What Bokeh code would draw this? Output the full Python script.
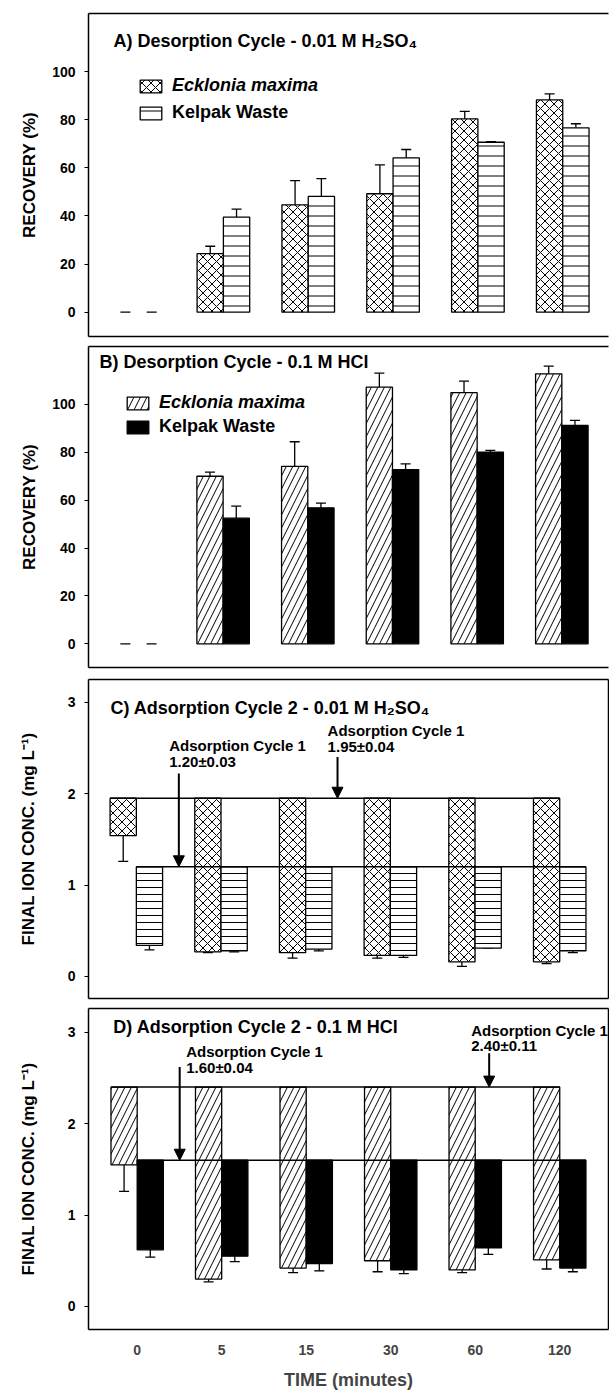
from bokeh.plotting import figure
from bokeh.models import (Range1d, FixedTicker, LinearAxis, Whisker, TeeHead, Arrow,
                          NormalHead, Label, Legend, LegendItem, ColumnDataSource,
                          CDSView, BooleanFilter, Grid)
from bokeh.layouts import column
from bokeh.embed import file_html
from bokeh.resources import INLINE

FONT = "Liberation Sans"

# ---------------- data ----------------
time_labels = ["0", "5", "15", "30", "60", "120"]
series_names = ["Ecklonia maxima", "Kelpak Waste"]

# A) Desorption cycle - 0.01 M H2SO4 (recovery %)
a_eck = [0, 24.3, 44.6, 49.2, 80.3, 88.2]
a_eck_err = [0, 3.1, 10.1, 12.0, 3.1, 2.5]
a_kel = [0, 39.5, 48.1, 64.1, 70.6, 76.6]
a_kel_err = [0, 3.3, 7.4, 3.5, 0.3, 1.7]

# B) Desorption cycle - 0.1 M HCl (recovery %)
b_eck = [0, 70.0, 74.1, 107.2, 104.9, 112.8]
b_eck_err = [0, 1.7, 10.3, 5.9, 4.8, 3.2]
b_kel = [0, 52.5, 56.8, 72.8, 80.1, 91.2]
b_kel_err = [0, 5.0, 2.0, 2.4, 0.7, 2.1]

# C) Adsorption cycle 2 - 0.01 M H2SO4 (final ion conc., mg/L)
c_eck = [1.54, 0.27, 0.26, 0.23, 0.16, 0.16]
c_eck_err = [0.28, 0.01, 0.06, 0.03, 0.05, 0.02]
c_kel = [0.34, 0.28, 0.30, 0.23, 0.31, 0.28]
c_kel_err = [0.05, 0.01, 0.02, 0.02, 0.0, 0.02]
c_eck_cycle1 = 1.95
c_kel_cycle1 = 1.20

# D) Adsorption cycle 2 - 0.1 M HCl (final ion conc., mg/L)
d_eck = [1.55, 0.30, 0.42, 0.50, 0.40, 0.51]
d_eck_err = [0.29, 0.03, 0.05, 0.12, 0.03, 0.10]
d_kel = [0.62, 0.55, 0.47, 0.40, 0.64, 0.42]
d_kel_err = [0.08, 0.06, 0.08, 0.04, 0.07, 0.04]
d_eck_cycle1 = 2.40
d_kel_cycle1 = 1.60

titles = ["A) Desorption Cycle - 0.01 M H\u2082SO\u2084",
          "B) Desorption Cycle - 0.1 M HCl",
          "C) Adsorption Cycle 2 - 0.01 M H\u2082SO\u2084",
          "D) Adsorption Cycle 2 - 0.1 M HCl"]
c_notes = [["Adsorption Cycle 1", "1.20\u00b10.03"], ["Adsorption Cycle 1", "1.95\u00b10.04"]]
d_notes = [["Adsorption Cycle 1", "1.60\u00b10.04"], ["Adsorption Cycle 1", "2.40\u00b10.11"]]

# ---------------- layout constants ----------------
BAR_W = 0.31
PX_PER_CAT = 85.0
FIG_W = 609


def empty_axis():
    return LinearAxis(ticker=FixedTicker(ticks=[]), major_tick_out=0, major_tick_in=0,
                      minor_tick_out=0, minor_tick_in=0, major_label_text_font_size="0px",
                      major_label_standoff=0, axis_line_width=1.5, axis_line_color="black")


def make_fig(height, b_top, b_bottom, b_left, b_right, x_start, y_start, y_end,
             y_ticks, y_label, label_standoff, right_line, show_x):
    frame_w = FIG_W - b_left - b_right
    p = figure(width=FIG_W, height=height, output_backend="svg", toolbar_location=None,
               x_range=Range1d(x_start, x_start + frame_w / PX_PER_CAT),
               y_range=Range1d(y_start, y_end),
               min_border_left=b_left, min_border_right=b_right,
               min_border_top=b_top, min_border_bottom=b_bottom,
               x_axis_location=None, y_axis_location=None)
    p.center = [r for r in p.center if not isinstance(r, Grid)]
    p.outline_line_color = None
    p.background_fill_color = "white"
    p.border_fill_color = "white"

    yax = LinearAxis(ticker=FixedTicker(ticks=y_ticks), axis_label=y_label,
                     axis_label_text_font=FONT, axis_label_text_font_size="17px",
                     axis_label_text_font_style="bold", axis_label_text_color="black",
                     axis_label_standoff=label_standoff,
                     major_label_text_font=FONT, major_label_text_font_size="14px",
                     major_label_text_font_style="bold", major_label_text_color="black",
                     major_label_standoff=9, major_tick_out=4, major_tick_in=0,
                     minor_tick_out=0, minor_tick_in=0, axis_line_width=1.5,
                     major_tick_line_width=1)
    p.add_layout(yax, "left")

    if show_x:
        xax = LinearAxis(ticker=FixedTicker(ticks=list(range(len(time_labels)))),
                         major_label_overrides={i: t for i, t in enumerate(time_labels)},
                         axis_label="TIME (minutes)", axis_label_text_font=FONT,
                         axis_label_text_font_size="18px", axis_label_text_font_style="bold",
                         axis_label_standoff=12,
                         major_label_text_font=FONT, major_label_text_font_size="14px",
                         major_label_text_font_style="bold", major_label_standoff=15,
                         major_tick_out=0, major_tick_in=0, minor_tick_out=0, minor_tick_in=0,
                         axis_line_width=1.5)
    else:
        xax = empty_axis()
    p.add_layout(xax, "below")
    p.add_layout(empty_axis(), "above")
    if right_line:
        p.add_layout(empty_axis(), "right")
    return p


def add_series(p, vals, errs, offset, up, ref, style):
    n = len(vals)
    xs = [i + offset for i in range(n)]
    if up:
        top = list(vals)
        bottom = [0] * n
        lo = list(vals)
        hi = [v + e for v, e in zip(vals, errs)]
    else:
        top = [ref] * n
        bottom = list(vals)
        lo = [v - e for v, e in zip(vals, errs)]
        hi = list(vals)
    src = ColumnDataSource(dict(x=xs, top=top, bottom=bottom, lo=lo, hi=hi))
    view = CDSView(filter=BooleanFilter([t != b for t, b in zip(top, bottom)]))
    r = p.vbar(x="x", width=BAR_W, top="top", bottom="bottom", source=src, view=view,
               line_color="black", line_width=1.3, **style)
    tee = TeeHead(size=10, line_width=1.3, line_color="black")
    if up:
        wk = Whisker(source=src, base="x", lower="lo", upper="hi", dimension="height",
                     line_color="black", line_width=1.3, upper_head=tee, lower_head=None)
    else:
        wk = Whisker(source=src, base="x", lower="lo", upper="hi", dimension="height",
                     line_color="black", line_width=1.3, lower_head=tee, upper_head=None)
    p.add_layout(wk)
    return r, xs


def add_ref_line(p, xs, ref):
    p.segment(x0=[xs[0] - BAR_W / 2], x1=[xs[-1] + BAR_W / 2], y0=[ref], y1=[ref],
              line_color="black", line_width=1.5)


def add_title(p, text, x, y):
    p.add_layout(Label(x=x, y=y, text=text, text_font=FONT, text_font_size="18px",
                       text_font_style="bold", text_color="black",
                       text_baseline="middle", text_align="left"))


def add_legend(p, renderer, text, italic, loc):
    leg = Legend(items=[LegendItem(label=text, renderers=[renderer])], location=loc,
                 label_text_font=FONT, label_text_font_size="18px",
                 label_text_font_style="bold italic" if italic else "bold",
                 label_text_color="black",
                 glyph_width=27, glyph_height=16, label_standoff=8, padding=0, margin=0,
                 spacing=0, border_line_color=None, background_fill_alpha=0)
    p.add_layout(leg)


def add_note(p, lines, x, y1, y2):
    for t, y in zip(lines, [y1, y2]):
        p.add_layout(Label(x=x, y=y, text=t, text_font=FONT, text_font_size="15px",
                           text_font_style="bold", text_color="black",
                           text_baseline="middle", text_align="left"))


def add_arrow(p, x, y0, y1):
    p.add_layout(Arrow(end=NormalHead(size=11, fill_color="black", line_color="black",
                                      line_width=1),
                       x_start=x, y_start=y0, x_end=x, y_end=y1,
                       line_color="black", line_width=2))


cross = dict(fill_color="white", hatch_pattern="x", hatch_color="black", hatch_scale=9,
             hatch_weight=1)
diag = dict(fill_color="white", hatch_pattern="/", hatch_color="black", hatch_scale=13,
            hatch_weight=1)
solid = dict(fill_color="black")

# ---------------- Panel A ----------------
pA = make_fig(341, 13, 5, 88, 0, -0.59, -10.1, 124.1, [0, 20, 40, 60, 80, 100],
              "RECOVERY (%)", 10, False, False)
rA1, _ = add_series(pA, a_eck, a_eck_err, -BAR_W / 2, True, 0, cross)
rA2, _ = add_series(pA, a_kel, a_kel_err, BAR_W / 2, True, 0,
                    dict(fill_color="white", hatch_pattern="-", hatch_color="black",
                         hatch_scale=10, hatch_weight=1))
add_title(pA, titles[0], -0.296, 112.6)
add_legend(pA, rA1, series_names[0], True, (49, 240))
add_legend(pA, rA2, series_names[1], False, (49, 213))

# ---------------- Panel B ----------------
pB = make_fig(332, 5, 6, 87, 0, -0.59, -9.9, 124.2, [0, 20, 40, 60, 80, 100],
              "RECOVERY (%)", 10, False, False)
rB1, _ = add_series(pB, b_eck, b_eck_err, -BAR_W / 2, True, 0, diag)
rB2, _ = add_series(pB, b_kel, b_kel_err, BAR_W / 2, True, 0, solid)
add_title(pB, titles[1], -0.461, 117.7)
add_legend(pB, rB1, series_names[0], True, (36, 254))
add_legend(pB, rB2, series_names[1], False, (36, 230))

# ---------------- Panel C ----------------
pC = make_fig(330, 6, 5, 86, 1, -0.565, -0.241, 3.249, [0, 1, 2, 3],
              "FINAL ION CONC. (mg L\u207b\u00b9)", 27, True, False)
rC1, xC1 = add_series(pC, c_eck, c_eck_err, -BAR_W / 2, False, c_eck_cycle1, cross)
rC2, xC2 = add_series(pC, c_kel, c_kel_err, BAR_W / 2, False, c_kel_cycle1,
                      dict(fill_color="white", hatch_pattern="-", hatch_color="black",
                           hatch_scale=7, hatch_weight=1))
add_ref_line(pC, xC1, c_eck_cycle1)
add_ref_line(pC, xC2, c_kel_cycle1)
add_title(pC, titles[2], -0.306, 2.94)
add_note(pC, c_notes[0], 0.388, 2.527, 2.356)
add_note(pC, c_notes[1], 2.259, 2.69, 2.517)
add_arrow(pC, 0.502, 2.22, c_kel_cycle1)
add_arrow(pC, 2.376, 2.40, c_eck_cycle1)

# ---------------- Panel D ----------------
pD = make_fig(389, 5, 63, 85, 1, -0.576, -0.252, 3.260, [0, 1, 2, 3],
              "FINAL ION CONC. (mg L\u207b\u00b9)", 27, True, True)
rD1, xD1 = add_series(pD, d_eck, d_eck_err, -BAR_W / 2, False, d_eck_cycle1, diag)
rD2, xD2 = add_series(pD, d_kel, d_kel_err, BAR_W / 2, False, d_kel_cycle1, solid)
add_ref_line(pD, xD1, d_eck_cycle1)
add_ref_line(pD, xD2, d_kel_cycle1)
add_title(pD, titles[3], -0.282, 3.063)
add_note(pD, d_notes[0], 0.580, 2.793, 2.618)
add_note(pD, d_notes[1], 3.953, 3.02, 2.856)
add_arrow(pD, 0.503, 2.62, d_kel_cycle1)
add_arrow(pD, 4.165, 2.77, d_eck_cycle1)

layout = column(pA, pB, pC, pD, spacing=0)
open("out.html", "w").write(file_html(layout, INLINE))
